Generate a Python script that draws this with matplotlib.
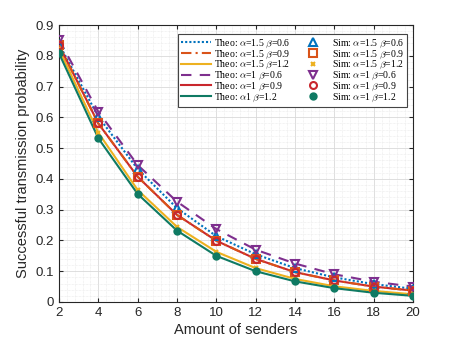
import matplotlib
matplotlib.use("Agg")
import matplotlib.pyplot as plt
from matplotlib.ticker import AutoMinorLocator

plt.rcParams['font.family'] = ['Liberation Sans', 'DejaVu Sans']
plt.rcParams['mathtext.fontset'] = 'cm'

senders = [2, 4, 6, 8, 10, 12, 14, 16, 18, 20]

theo_a15_b06 = [0.838, 0.602, 0.432, 0.305, 0.214, 0.155, 0.110, 0.080, 0.058, 0.043]
theo_a15_b09 = [0.834, 0.580, 0.407, 0.283, 0.199, 0.140, 0.097, 0.070, 0.050, 0.037]
theo_a15_b12 = [0.822, 0.550, 0.364, 0.244, 0.163, 0.110, 0.075, 0.051, 0.036, 0.025]
theo_a1_b06 = [0.852, 0.618, 0.445, 0.326, 0.237, 0.170, 0.125, 0.090, 0.066, 0.050]
theo_a1_b09 = [0.835, 0.580, 0.407, 0.283, 0.199, 0.140, 0.097, 0.070, 0.050, 0.037]
theo_a1_b12 = [0.808, 0.532, 0.351, 0.232, 0.150, 0.100, 0.067, 0.045, 0.030, 0.020]

sim_a15_b06 = [0.838, 0.602, 0.432, 0.305, 0.214, 0.155, 0.110, 0.080, 0.058, 0.043]
sim_a15_b09 = [0.834, 0.580, 0.407, 0.283, 0.199, 0.140, 0.097, 0.070, 0.050, 0.037]
sim_a15_b12 = [0.822, 0.550, 0.364, 0.244, 0.163, 0.110, 0.075, 0.051, 0.036, 0.025]
sim_a1_b06 = [0.852, 0.618, 0.445, 0.326, 0.237, 0.170, 0.125, 0.090, 0.066, 0.050]
sim_a1_b09 = [0.835, 0.580, 0.407, 0.283, 0.199, 0.140, 0.097, 0.070, 0.050, 0.037]
sim_a1_b12 = [0.808, 0.532, 0.351, 0.232, 0.150, 0.100, 0.067, 0.045, 0.030, 0.020]

x_ticks = [2, 4, 6, 8, 10, 12, 14, 16, 18, 20]
y_ticks = [0, 0.1, 0.2, 0.3, 0.4, 0.5, 0.6, 0.7, 0.8, 0.9]
y_tick_labels = ['0', '0.1', '0.2', '0.3', '0.4', '0.5', '0.6', '0.7', '0.8', '0.9']

theo_labels = [r'Theo: $\alpha$=1.5 $\beta$=0.6', r'Theo: $\alpha$=1.5 $\beta$=0.9',
               r'Theo: $\alpha$=1.5 $\beta$=1.2', r'Theo: $\alpha$=1 $\beta$=0.6',
               r'Theo: $\alpha$=1 $\beta$=0.9', r'Theo: $\alpha$1 $\beta$=1.2']
sim_labels = [r'Sim: $\alpha$=1.5 $\beta$=0.6', r'Sim: $\alpha$=1.5 $\beta$=0.9',
              r'Sim: $\alpha$=1.5 $\beta$=1.2', r'Sim: $\alpha$=1 $\beta$=0.6',
              r'Sim: $\alpha$=1 $\beta$=0.9', r'Sim: $\alpha$=1 $\beta$=1.2']

colors = ['#0072BD', '#D95319', '#EDB120', '#7E2F8E', '#C9272D', '#0F7A63']
theo = [theo_a15_b06, theo_a15_b09, theo_a15_b12, theo_a1_b06, theo_a1_b09, theo_a1_b12]
sims = [sim_a15_b06, sim_a15_b09, sim_a15_b12, sim_a1_b06, sim_a1_b09, sim_a1_b12]
styles = [(0, (1, 1)), (0, (5, 2, 1, 2)), '-', (0, (5, 4)), '-', '-']
markers = ['^', 's', 'x', 'v', 'o', 'o']
fills = ['none', 'none', None, 'none', 'none', None]
msizes = [6, 5.5, 3.5, 6, 5, 4.5]

fig = plt.figure(figsize=(4.57, 3.43), dpi=100)
ax = fig.add_axes([59/457, 1 - 302/343, (413-59)/457, (302-25)/343])

tl = []
for i in range(6):
    l, = ax.plot(senders, theo[i], linestyle=styles[i], color=colors[i], lw=1.5,
                 label=theo_labels[i], zorder=2 + (1 if i == 1 else 0))
    tl.append(l)
sl = []
for i in range(6):
    kw = dict(marker=markers[i], linestyle='none', color=colors[i], ms=msizes[i],
              mew=1.5, label=sim_labels[i], zorder=4)
    if fills[i] == 'none':
        kw['mfc'] = 'none'
    s, = ax.plot(senders, sims[i], **kw)
    sl.append(s)

leg = ax.legend(handles=tl + sl, ncol=2, loc='upper right', bbox_to_anchor=(0.983, 0.967),
                prop={'family': 'Liberation Serif', 'size': 7}, frameon=True, fancybox=False,
                edgecolor='#444444', framealpha=1, handlelength=3.0, columnspacing=0.8,
                labelspacing=-0.15, borderpad=0.35, handletextpad=0.4, borderaxespad=0)
leg.get_frame().set_linewidth(0.8)

ax.set_xlim(2, 20)
ax.set_ylim(0, 0.9)
ax.set_xticks(x_ticks)
ax.set_yticks(y_ticks, y_tick_labels)
ax.xaxis.set_minor_locator(AutoMinorLocator(5))
ax.yaxis.set_minor_locator(AutoMinorLocator(5))
ax.grid(which='major', color='#d9d9d9', lw=0.6)
ax.grid(which='minor', color='#e8e8e8', lw=0.5, linestyle=(0, (1, 1)))
ax.set_axisbelow(True)
ax.tick_params(which='both', direction='in', top=True, right=True, labelsize=9.5,
               colors='#262626', length=3)
ax.tick_params(which='minor', length=0)
for sp in ax.spines.values():
    sp.set_color('#262626')
    sp.set_linewidth(0.8)
ax.set_xlabel('Amount of senders', fontsize=10.5, color='#262626', labelpad=3)
ax.set_ylabel('Successful transmission probability', fontsize=10.5, color='#262626', labelpad=4)

fig.savefig('out.png', dpi=100)
